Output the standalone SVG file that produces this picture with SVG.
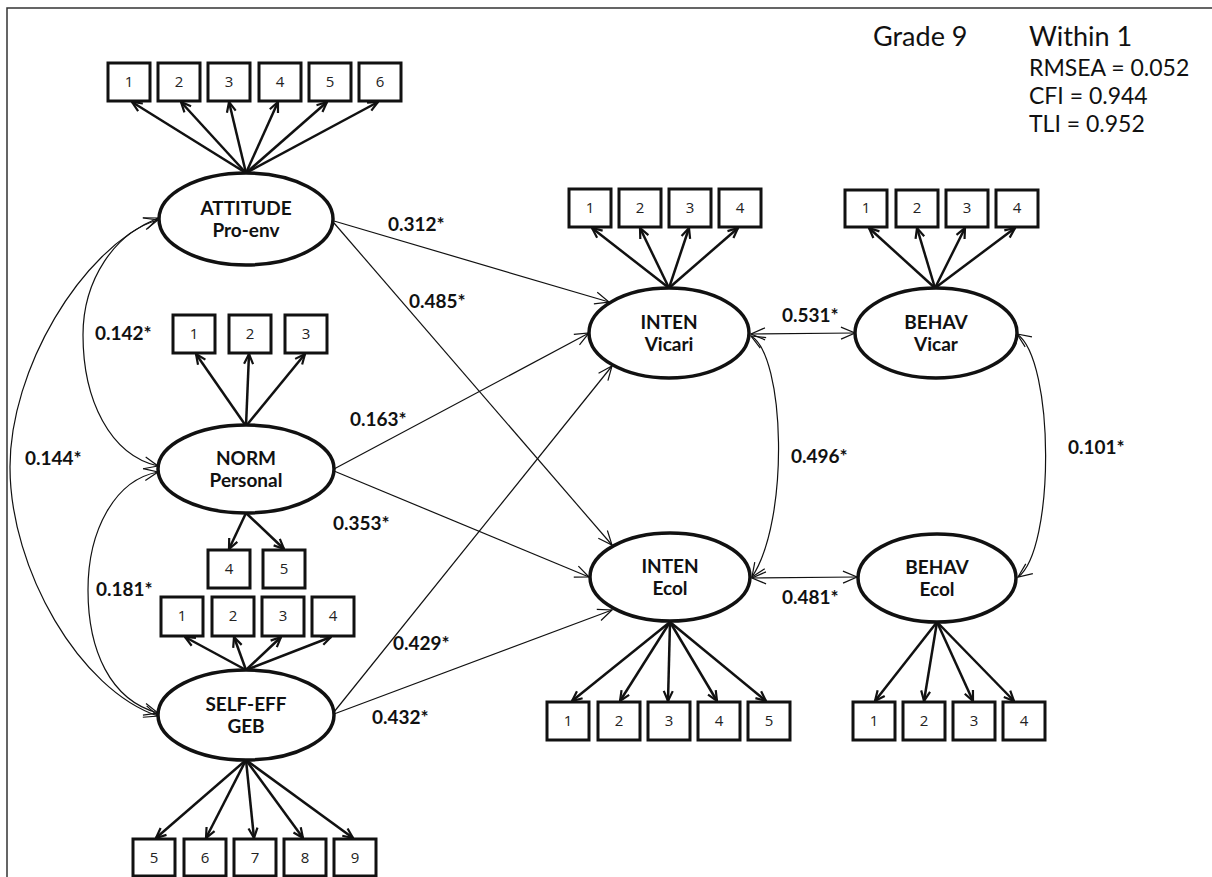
<svg xmlns="http://www.w3.org/2000/svg" width="1212" height="877" viewBox="0 0 1212 877">
<style>
.box{fill:#fff;stroke:#111;stroke-width:3}
.lat{fill:#fff;stroke:#111;stroke-width:3.5}
.num{font-family:"Open Sans","Liberation Sans",sans-serif;font-size:15px;fill:#222;text-anchor:middle}
.lbl{font-family:Lato,"Open Sans",sans-serif;font-weight:bold;font-size:19px;fill:#111;text-anchor:middle}
.coef{font-family:Lato,"Open Sans",sans-serif;font-weight:bold;font-size:19px;fill:#111}
.hdr{font-family:Lato,"Open Sans",sans-serif;fill:#111}
.ind{stroke:#111;stroke-width:2.5;fill:none;marker-end:url(#ah)}
.path{stroke:#111;stroke-width:1.2;fill:none;marker-end:url(#oh)}
.cov{stroke:#111;stroke-width:1.2;fill:none;marker-start:url(#oh);marker-end:url(#oh)}
</style>
<defs>
<marker id="ah" markerUnits="userSpaceOnUse" viewBox="0 0 12 12" refX="11" refY="6" markerWidth="12" markerHeight="12" orient="auto-start-reverse">
<path d="M1,1.5 L11,6 L1,10.5" fill="none" stroke="#111" stroke-width="2.2"/>
</marker>
<marker id="oh" markerUnits="userSpaceOnUse" viewBox="0 0 16 14" refX="15" refY="7" markerWidth="16" markerHeight="14" orient="auto-start-reverse">
<path d="M1,1 L15,7 L1,13" fill="none" stroke="#111" stroke-width="1.2"/>
</marker>
</defs>
<rect width="1212" height="877" fill="#fff"/>
<rect x="7" y="8" width="1230" height="900" fill="none" stroke="#333" stroke-width="1.5"/>

<g id="header" class="hdr">
<text x="873" y="46" font-size="27">Grade 9</text>
<text x="1029" y="46" font-size="27">Within 1</text>
<text x="1029" y="76" font-size="23">RMSEA = 0.052</text>
<text x="1029" y="104" font-size="23">CFI = 0.944</text>
<text x="1029" y="132" font-size="23">TLI = 0.952</text>
</g>

<g id="connectors">
<!-- indicator loadings -->
<path class="ind" d="M246,173 L132,102"/>
<path class="ind" d="M246,173 L181,102"/>
<path class="ind" d="M246,173 L229,102"/>
<path class="ind" d="M246,173 L278,102"/>
<path class="ind" d="M246,173 L327,102"/>
<path class="ind" d="M246,173 L378,102"/>
<path class="ind" d="M246,426 L196,354"/>
<path class="ind" d="M246,426 L249,354"/>
<path class="ind" d="M246,426 L305,354"/>
<path class="ind" d="M246,513 L229,549"/>
<path class="ind" d="M246,513 L284,549"/>
<path class="ind" d="M246,670 L185,637"/>
<path class="ind" d="M246,670 L234,637"/>
<path class="ind" d="M246,670 L281,637"/>
<path class="ind" d="M246,670 L331,637"/>
<path class="ind" d="M246,760 L156,838"/>
<path class="ind" d="M246,760 L206,838"/>
<path class="ind" d="M246,760 L254,838"/>
<path class="ind" d="M246,760 L303,838"/>
<path class="ind" d="M246,760 L353,838"/>
<path class="ind" d="M669,288 L592,228"/>
<path class="ind" d="M669,288 L640,228"/>
<path class="ind" d="M669,288 L689,228"/>
<path class="ind" d="M669,288 L738,228"/>
<path class="ind" d="M935,288 L869,228"/>
<path class="ind" d="M935,288 L917,228"/>
<path class="ind" d="M935,288 L965,228"/>
<path class="ind" d="M935,288 L1015,228"/>
<path class="ind" d="M670,622 L572,701"/>
<path class="ind" d="M670,622 L620,701"/>
<path class="ind" d="M670,622 L668,701"/>
<path class="ind" d="M670,622 L717,701"/>
<path class="ind" d="M670,622 L766,701"/>
<path class="ind" d="M937,622 L875,701"/>
<path class="ind" d="M937,622 L924,701"/>
<path class="ind" d="M937,622 L973,701"/>
<path class="ind" d="M937,622 L1014,701"/>
<!-- structural paths -->
<path class="path" d="M334,221 L609,302"/>
<path class="path" d="M334,223 L612,545"/>
<path class="path" d="M334,469 L589,333"/>
<path class="path" d="M334,471 L589,577"/>
<path class="path" d="M334,712 L612,366"/>
<path class="path" d="M334,714 L612,610"/>
<!-- covariances -->
<path class="cov" d="M751,334 L855,333"/>
<path class="cov" d="M752,578 L857,577"/>
<path class="cov" d="M751,336 C785,355 790,520 752,577"/>
<path class="cov" d="M1017,334 C1055,360 1055,550 1018,577"/>
<path class="cov" d="M158,220 C115,232 83,280 83,335 C83,400 110,455 158,466"/>
<path class="cov" d="M158,472 C115,480 88,530 88,590 C88,650 110,700 158,713"/>
<path class="cov" d="M158,218 C80,250 10,370 10,467 C10,570 80,690 158,716"/>
</g>

<g id="coefficients" class="coef">
<text x="388" y="231">0.312*</text>
<text x="409" y="308">0.485*</text>
<text x="350" y="426">0.163*</text>
<text x="333" y="530">0.353*</text>
<text x="393" y="650">0.429*</text>
<text x="372" y="724">0.432*</text>
<text x="782" y="322">0.531*</text>
<text x="791" y="463">0.496*</text>
<text x="782" y="604">0.481*</text>
<text x="1068" y="454">0.101*</text>
<text x="95" y="340">0.142*</text>
<text x="25" y="465">0.144*</text>
<text x="96" y="596">0.181*</text>
</g>

<g id="attitude">
<ellipse class="lat" cx="246" cy="219" rx="87" ry="46"/>
<text class="lbl" x="246" y="215">ATTITUDE</text>
<text class="lbl" x="246" y="237">Pro-env</text>
<rect class="box" x="108" y="63" width="42" height="38"/><text class="num" x="129" y="87">1</text>
<rect class="box" x="158" y="63" width="42" height="38"/><text class="num" x="179" y="87">2</text>
<rect class="box" x="208" y="63" width="42" height="38"/><text class="num" x="229" y="87">3</text>
<rect class="box" x="259" y="63" width="42" height="38"/><text class="num" x="280" y="87">4</text>
<rect class="box" x="309" y="63" width="42" height="38"/><text class="num" x="330" y="87">5</text>
<rect class="box" x="359" y="63" width="42" height="38"/><text class="num" x="380" y="87">6</text>
</g>

<g id="norm">
<ellipse class="lat" cx="246" cy="469" rx="88" ry="44"/>
<text class="lbl" x="246" y="465">NORM</text>
<text class="lbl" x="246" y="487">Personal</text>
<rect class="box" x="173" y="315" width="42" height="38"/><text class="num" x="194" y="339">1</text>
<rect class="box" x="229" y="315" width="42" height="38"/><text class="num" x="250" y="339">2</text>
<rect class="box" x="285" y="315" width="42" height="38"/><text class="num" x="306" y="339">3</text>
<rect class="box" x="208" y="550" width="42" height="38"/><text class="num" x="229" y="574">4</text>
<rect class="box" x="263" y="550" width="42" height="38"/><text class="num" x="284" y="574">5</text>
</g>

<g id="selfeff">
<ellipse class="lat" cx="246" cy="715" rx="88" ry="45"/>
<text class="lbl" x="246" y="711">SELF-EFF</text>
<text class="lbl" x="246" y="733">GEB</text>
<rect class="box" x="161" y="597" width="42" height="39"/><text class="num" x="182" y="621">1</text>
<rect class="box" x="212" y="597" width="42" height="39"/><text class="num" x="233" y="621">2</text>
<rect class="box" x="262" y="597" width="42" height="39"/><text class="num" x="283" y="621">3</text>
<rect class="box" x="312" y="597" width="42" height="39"/><text class="num" x="333" y="621">4</text>
<rect class="box" x="133" y="839" width="42" height="37"/><text class="num" x="154" y="863">5</text>
<rect class="box" x="184" y="839" width="42" height="37"/><text class="num" x="205" y="863">6</text>
<rect class="box" x="234" y="839" width="42" height="37"/><text class="num" x="255" y="863">7</text>
<rect class="box" x="284" y="839" width="42" height="37"/><text class="num" x="305" y="863">8</text>
<rect class="box" x="334" y="839" width="42" height="37"/><text class="num" x="355" y="863">9</text>
</g>

<g id="inten-vicari">
<ellipse class="lat" cx="669" cy="333" rx="80" ry="45"/>
<text class="lbl" x="669" y="329">INTEN</text>
<text class="lbl" x="669" y="351">Vicari</text>
<rect class="box" x="569" y="189" width="42" height="38"/><text class="num" x="590" y="213">1</text>
<rect class="box" x="619" y="189" width="42" height="38"/><text class="num" x="640" y="213">2</text>
<rect class="box" x="669" y="189" width="42" height="38"/><text class="num" x="690" y="213">3</text>
<rect class="box" x="719" y="189" width="42" height="38"/><text class="num" x="740" y="213">4</text>
</g>

<g id="behav-vicar">
<ellipse class="lat" cx="936" cy="333" rx="81" ry="45"/>
<text class="lbl" x="936" y="329">BEHAV</text>
<text class="lbl" x="936" y="351">Vicar</text>
<rect class="box" x="845" y="190" width="42" height="37"/><text class="num" x="866" y="213">1</text>
<rect class="box" x="896" y="190" width="42" height="37"/><text class="num" x="917" y="213">2</text>
<rect class="box" x="946" y="190" width="42" height="37"/><text class="num" x="967" y="213">3</text>
<rect class="box" x="996" y="190" width="42" height="37"/><text class="num" x="1017" y="213">4</text>
</g>

<g id="inten-ecol">
<ellipse class="lat" cx="670" cy="577" rx="80" ry="44"/>
<text class="lbl" x="670" y="573">INTEN</text>
<text class="lbl" x="670" y="595">Ecol</text>
<rect class="box" x="547" y="702" width="42" height="38"/><text class="num" x="568" y="726">1</text>
<rect class="box" x="598" y="702" width="42" height="38"/><text class="num" x="619" y="726">2</text>
<rect class="box" x="648" y="702" width="42" height="38"/><text class="num" x="669" y="726">3</text>
<rect class="box" x="698" y="702" width="42" height="38"/><text class="num" x="719" y="726">4</text>
<rect class="box" x="748" y="702" width="42" height="38"/><text class="num" x="769" y="726">5</text>
</g>

<g id="behav-ecol">
<ellipse class="lat" cx="937" cy="578" rx="79" ry="44"/>
<text class="lbl" x="937" y="574">BEHAV</text>
<text class="lbl" x="937" y="596">Ecol</text>
<rect class="box" x="853" y="702" width="42" height="38"/><text class="num" x="874" y="726">1</text>
<rect class="box" x="903" y="702" width="42" height="38"/><text class="num" x="924" y="726">2</text>
<rect class="box" x="953" y="702" width="42" height="38"/><text class="num" x="974" y="726">3</text>
<rect class="box" x="1003" y="702" width="42" height="38"/><text class="num" x="1024" y="726">4</text>
</g>
</svg>
